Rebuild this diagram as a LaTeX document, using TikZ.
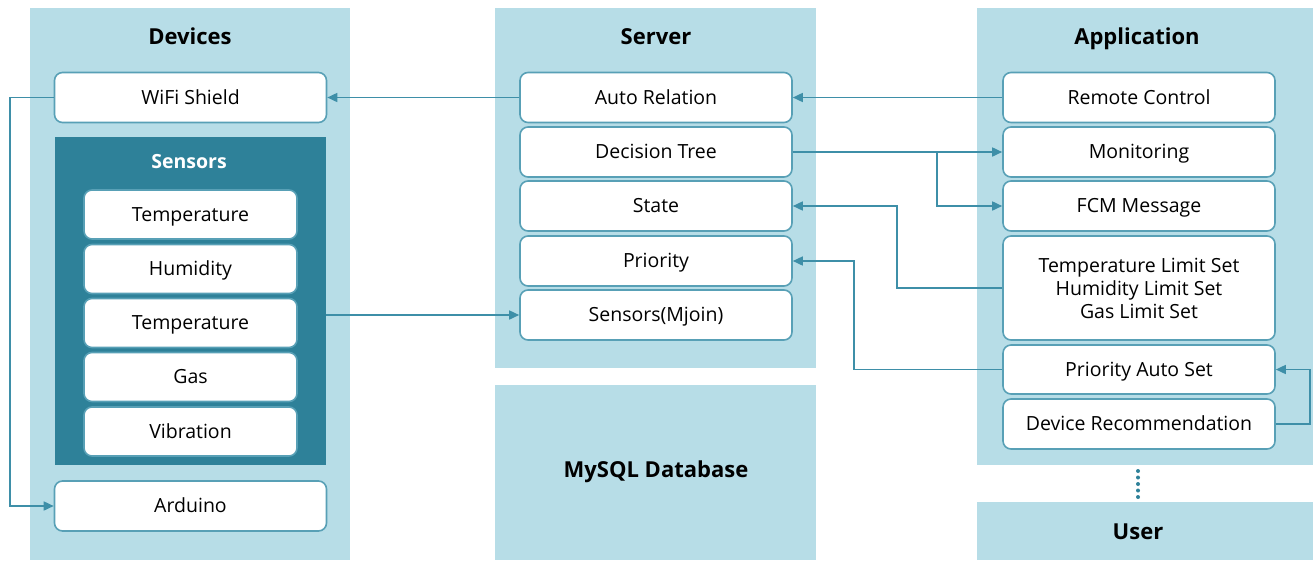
\documentclass[tikz,border=0pt]{standalone}
\usepackage{fontspec}
\setmainfont{Open Sans}
\usetikzlibrary{arrows.meta,calc}
\definecolor{panel}{RGB}{183,221,231}
\definecolor{darkteal}{RGB}{46,129,153}
\definecolor{edge}{RGB}{62,143,168}
\definecolor{boxline}{RGB}{88,160,182}
\begin{document}
\begin{tikzpicture}[x=1pt,y=-1pt,
  panelbox/.style={fill=panel,draw=none,inner sep=0,outer sep=0},
  basebox/.style={draw=boxline,fill=white,rounded corners=8pt,line width=1.6pt,minimum width=272pt,minimum height=50pt,inner sep=0,font=\fontsize{19.5}{23}\selectfont},
  wbox/.style={basebox,text height=17pt,text depth=4pt},
  sbox/.style={wbox,minimum width=213pt,minimum height=49pt},
  ttl/.style={font=\fontsize{22}{26}\selectfont\bfseries,text height=19pt,text depth=5pt},
  conn/.style={draw=edge,line width=1.6pt},
  arr/.style={conn,-{Triangle[length=10pt,width=9pt]}},
]
\useasboundingbox (0,0) rectangle (1313,560);
% panels
\node[panelbox,minimum width=320pt,minimum height=552pt] (devp) at (190,284) {};
\node[panelbox,minimum width=321pt,minimum height=360pt] (srvp) at (655.5,188) {};
\node[panelbox,minimum width=321pt,minimum height=175pt] (dbp) at (655.5,472.5) {};
\node[panelbox,minimum width=336pt,minimum height=457pt] (appp) at (1145,236.5) {};
\node[panelbox,minimum width=336pt,minimum height=58pt] (userp) at (1145,531) {};
\node[ttl] (devt) at (190,37) {Devices};
\node[ttl] (srvt) at (656,37) {Server};
\node[ttl] (appt) at (1137,37) {Application};
\node[ttl] (dbt) at (656,470) {MySQL Database};
\node[ttl] (usert) at (1138,532) {User};
% devices
\node[wbox] (wifi) at (190.5,97.5) {WiFi Shield};
\node[fill=darkteal,minimum width=271pt,minimum height=328pt,inner sep=0] (sens) at (190.5,301) {};
\node[text=white,font=\fontsize{19.5}{23}\selectfont\bfseries,text height=17pt,text depth=4pt] (senst) at (189,162) {Sensors};
\node[sbox] (s1) at (190.5,214.5) {Temperature};
\node[sbox] (s2) at (190.5,269) {Humidity};
\node[sbox] (s3) at (190.5,323) {Temperature};
\node[sbox] (s4) at (190.5,377) {Gas};
\node[sbox] (s5) at (190.5,431.5) {Vibration};
\node[wbox] (ard) at (190.5,506) {Arduino};
% server
\node[wbox] (auto) at (656,97.5) {Auto Relation};
\node[wbox] (dt) at (656,152) {Decision Tree};
\node[wbox] (state) at (656,206) {State};
\node[wbox] (prio) at (656,261) {Priority};
\node[wbox] (mjoin) at (656,315) {Sensors(Mjoin)};
% application
\node[wbox] (rc) at (1139,97.5) {Remote Control};
\node[wbox] (mon) at (1139,152) {Monitoring};
\node[wbox] (fcm) at (1139,206) {FCM Message};
\node[basebox,minimum height=104pt,align=center,font=\fontsize{19.5}{23}\selectfont] (lim) at (1139,288) {Temperature Limit Set\\Humidity Limit Set\\Gas Limit Set};
\node[wbox,minimum height=49pt] (pas) at (1139,369.5) {Priority Auto Set};
\node[wbox] (dr) at (1139,424) {Device Recommendation};
% connectors
\draw[arr] (rc.west) -- (auto.east);
\draw[arr] (auto.west) -- (wifi.east);
\draw[arr] (wifi.west) -- (10,97.5) |- (ard.west);
\draw[arr] (dt.east) -- (mon.west);
\coordinate (br) at (937,152);
\draw[arr] (br) |- (fcm.west);
\draw[arr] (lim.west) -| (897,206) -- (state.east);
\draw[arr] (pas.west) -| (854,261) -- (prio.east);
\draw[arr] (dr.east) -- (1310,424) |- (pas.east);
\draw[arr] (sens.east |- mjoin.west) -- (mjoin.west);
\draw[draw=darkteal,line width=4pt,line cap=round,dash pattern=on 0pt off 6.5pt] (appp.south -| usert) ++(0,6) coordinate (d1) -- ($(userp.north -| usert)+(0,-2)$);
\end{tikzpicture}
\end{document}
